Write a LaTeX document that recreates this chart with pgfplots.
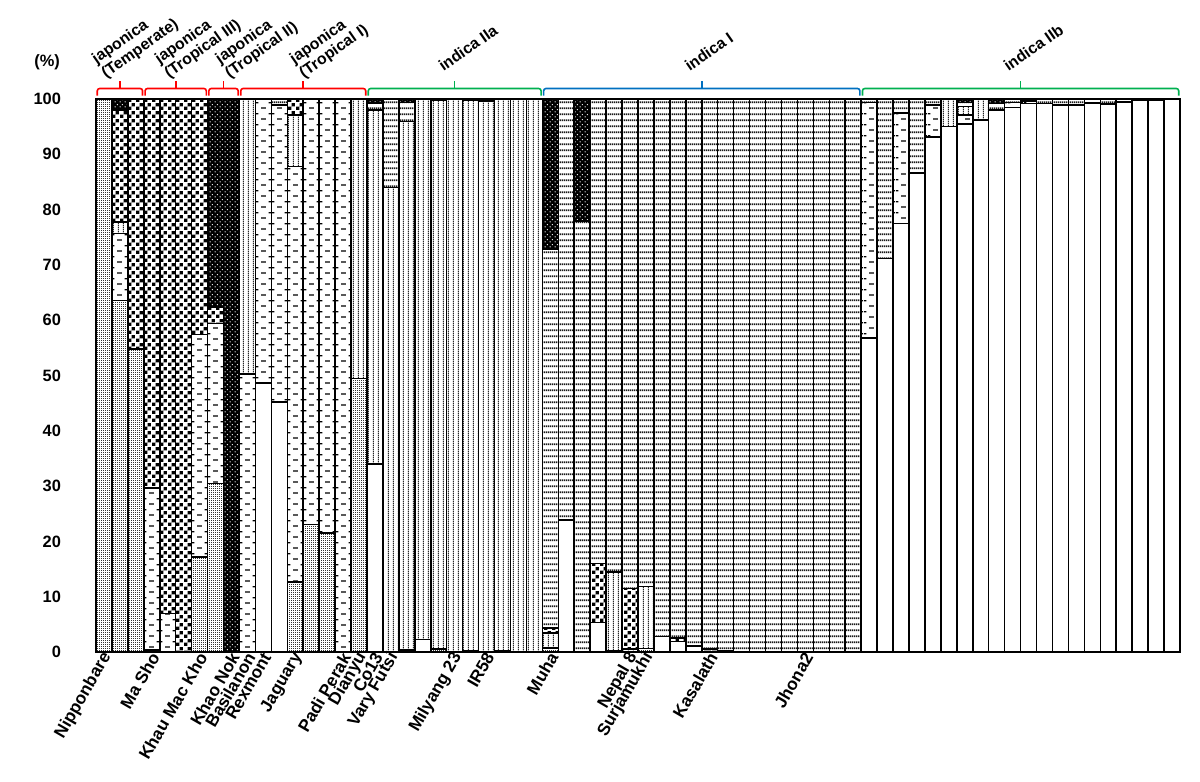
\documentclass[border=0pt]{standalone}
\usepackage{fontspec}
\setmainfont{Liberation Sans}
\usepackage{pgfplots}
\pgfplotsset{compat=1.18}
\usepackage{pgfplotstable}
\usetikzlibrary{patterns}

% fill patterns of the seven clusters
\pgfdeclarepatternformonly{finedots}{\pgfqpoint{0pt}{0pt}}{\pgfqpoint{1.2pt}{1.2pt}}{\pgfqpoint{1.2pt}{1.2pt}}{%
  \pgfpathrectangle{\pgfqpoint{0pt}{0pt}}{\pgfqpoint{0.6pt}{0.6pt}}\pgfusepath{fill}}
\pgfdeclarepatternformonly{checker}{\pgfqpoint{0pt}{0pt}}{\pgfqpoint{4pt}{4pt}}{\pgfqpoint{4pt}{4pt}}{%
  \pgfpathrectangle{\pgfqpoint{0.1pt}{0.1pt}}{\pgfqpoint{1.8pt}{1.8pt}}%
  \pgfpathrectangle{\pgfqpoint{2.1pt}{2.1pt}}{\pgfqpoint{1.8pt}{1.8pt}}\pgfusepath{fill}}
\pgfdeclarepatternformonly{wdots}{\pgfqpoint{0pt}{0pt}}{\pgfqpoint{2.6pt}{2.6pt}}{\pgfqpoint{2.6pt}{2.6pt}}{%
  \pgfpathcircle{\pgfqpoint{0.65pt}{0.65pt}}{0.4pt}%
  \pgfpathcircle{\pgfqpoint{1.95pt}{1.95pt}}{0.4pt}\pgfusepath{fill}}
\pgfdeclarepatternformonly{dashes}{\pgfqpoint{0pt}{0pt}}{\pgfqpoint{8pt}{5.6pt}}{\pgfqpoint{8pt}{5.6pt}}{%
  \pgfpathrectangle{\pgfqpoint{2.7pt}{0.2pt}}{\pgfqpoint{2.6pt}{0.7pt}}%
  \pgfpathrectangle{\pgfqpoint{0pt}{3pt}}{\pgfqpoint{1.3pt}{0.7pt}}%
  \pgfpathrectangle{\pgfqpoint{6.7pt}{3pt}}{\pgfqpoint{1.3pt}{0.7pt}}\pgfusepath{fill}}
\pgfdeclarepatternformonly{vlines}{\pgfqpoint{0pt}{0pt}}{\pgfqpoint{2.667pt}{1pt}}{\pgfqpoint{2.667pt}{1pt}}{%
  \pgfpathrectangle{\pgfqpoint{1.05pt}{0pt}}{\pgfqpoint{0.55pt}{1pt}}\pgfusepath{fill}}
\pgfdeclarepatternformonly{hlines}{\pgfqpoint{0pt}{0pt}}{\pgfqpoint{1pt}{2.85pt}}{\pgfqpoint{1pt}{2.85pt}}{%
  \pgfpathrectangle{\pgfqpoint{0pt}{1.0pt}}{\pgfqpoint{1pt}{0.85pt}}\pgfusepath{fill}}

\definecolor{jred}{RGB}{255,0,0}
\definecolor{igreen}{RGB}{0,176,80}
\definecolor{iblue}{RGB}{0,112,192}

\tikzset{grplab/.style={font=\bfseries\fontsize{7.9}{8.3}\selectfont, rotate=35, anchor=south west, align=left, inner sep=0pt}}

% bracket over a group: left, right, middle, colour
\newcommand{\grp}[4]{%
  \draw[#4, line width=0.8pt, rounded corners=1.2pt]
    (axis cs:#1,100.6) -- (axis cs:#1,101.9) -- (axis cs:#2,101.9) -- (axis cs:#2,100.6);
  \draw[#4, line width=0.8pt] (axis cs:#3,101.9) -- (axis cs:#3,103.3);}

% ancestry (%) of each accession, stacked from bottom to top
\pgfplotstableread{
x  W    D    S    V    C    H    B
1  0    100  0    0    0    0    0
2  0    63.6 12.1 2.1  20.2 0    2.0
3  0    54.8 0    0    45.2 0    0
4  0    0.4  29.3 0    70.3 0    0
5  0    0    7.0  0    93.0 0    0
6  0    0    0    0    100  0    0
7  0    17.2 40.2 0    42.6 0    0
8  0    30.5 28.9 0    3.0  0    37.6
9  0    0    0    0    0    0    100
10 0    0    50.3 49.7 0    0    0
11 48.6 0    51.4 0    0    0    0
12 45.2 0    53.7 0    0    1.1  0
13 0    12.7 75.1 9.3  2.9  0    0
14 0    23.1 76.9 0    0    0    0
15 0    21.5 78.5 0    0    0    0
16 0    0    100  0    0    0    0
17 0    49.5 0    50.5 0    0    0
18 34.0 0    0    64.0 0    1.3  0.7
19 0    0    0    84.0 0    16.0 0
20 0.4  0    0    95.5 0    3.5  0.6
21 2.3  0    0    97.7 0    0    0
22 0    0.5  0    99.2 0    0.3  0
23 0    0    0    100  0    0    0
24 0.3  0    0    99.4 0    0.3  0
25 0    0    0    99.6 0    0    0.4
26 0.3  0    0    99.7 0    0    0
27 0    0    0    100  0    0    0
28 0    0    0    100  0    0    0
29 0    0.7  0    2.7  0.9  68.5 27.2
30 23.9 0    0    0    0    76.1 0
31 0    0    0    0    0    77.9 22.1
32 5.3  0    0    0    10.7 84.0 0
33 0.3  0    0    14.2 0    85.5 0
34 0    0    0    0.5  11.0 88.5 0
35 0    0.6  0    11.2 0    88.2 0
36 2.8  0    0    0    0    97.2 0
37 1.9  0    0    0    0.6  97.5 0
38 1.1  0    0    0    0    98.9 0
39 0    0    0    0    0.5  99.5 0
40 0    0    0    0    0.3  99.7 0
41 0    0    0    0    0    100  0
42 0    0    0    0    0    100  0
43 0    0    0    0    0    100  0
44 0    0    0    0    0    100  0
45 0    0    0    0    0    100  0
46 0    0    0    0    0    100  0
47 0    0    0    0    0    100  0
48 0    0    0    0    0    100  0
49 56.8 0    42.6 0    0    0.6  0
50 71.2 0    0    0    0    28.8 0
51 77.5 0    20.0 0    0    2.5  0
52 86.6 0    0    0    0    13.4 0
53 93.1 0    5.8  0    0    1.1  0
54 95.0 0    0    5.0  0    0    0
55 95.5 0    1.6  1.5  0    0.8  0.6
56 96.2 0    0    3.8  0    0    0
57 98.0 0    0    0    0    1.2  0.8
58 98.5 0    0.9  0    0    0.6  0
59 99.2 0    0.4  0    0    0.4  0
60 99.2 0    0    0    0    0.8  0
61 98.9 0    0    0    0    1.1  0
62 98.9 0    0    0    0    1.1  0
63 99.3 0    0.7  0    0    0    0
64 99.1 0    0    0    0    0.9  0
65 99.5 0    0    0    0    0.5  0
66 99.7 0    0    0    0    0.3  0
67 99.8 0    0    0    0    0.2  0
68 100  0    0    0    0    0    0
}\anc

\begin{document}
\begin{tikzpicture}
\useasboundingbox (-48pt,-65pt) rectangle (552pt,326pt);
\begin{axis}[
    at={(0,0)}, anchor=south west,
    width=542pt, height=276.5pt, scale only axis,
    ybar stacked, bar width=1,
    xmin=0.5, xmax=68.5, ymin=0, ymax=100,
    clip=false,
    axis line style={line width=1pt},
    major tick length=0,
    ytick={0,10,...,100},
    yticklabel style={font=\bfseries\fontsize{8.2}{9}\selectfont, xshift=-14pt},
    /pgf/number format/assume math mode=true,
    xtick={1,4,7,9,10,11,13,16,17,18,19,23,25,29,34,35,39,45},
    xticklabels={Nipponbare,Ma Sho,Khau Mac Kho,Khao Nok,Basilanon,Rexmont,Jaguary,Padi Perak,Dianyu,Co13,Vary Futsi,Milyang 23,IR58,Muha,Nepal 8,Surjamukhi,Kasalath,Jhona2},
    xticklabel style={font=\bfseries\fontsize{8.6}{9}\selectfont, rotate=60, anchor=east, inner sep=1pt, xshift=1pt, yshift=-2pt},
    every axis plot/.append style={draw=black, line width=0.75pt},
]
\addplot[fill=white] table[x=x, y=W] {\anc};
\addplot[pattern=finedots, pattern color=black!80] table[x=x, y=D] {\anc};
\addplot[pattern=dashes, pattern color=black] table[x=x, y=S] {\anc};
\addplot[pattern=vlines, pattern color=black!85] table[x=x, y=V] {\anc};
\addplot[pattern=checker, pattern color=black] table[x=x, y=C] {\anc};
\addplot[pattern=hlines, pattern color=black!90] table[x=x, y=H] {\anc};
\addplot[fill=black, postaction={pattern=wdots, pattern color=white}] table[x=x, y=B] {\anc};

\grp{0.58}{3.42}{2.0}{jred}
\grp{3.58}{7.42}{5.5}{jred}
\grp{7.58}{9.42}{8.5}{jred}
\grp{9.58}{17.42}{13.5}{jred}
\grp{17.58}{28.42}{23.0}{igreen}
\grp{28.58}{48.42}{38.5}{iblue}
\grp{48.58}{68.42}{58.5}{igreen}

\node[grplab] at (axis cs:1.25,103.2) {japonica\\(Temperate)};
\node[grplab] at (axis cs:5.2,103.2) {japonica\\(Tropical III)};
\node[grplab] at (axis cs:9.0,103.2) {japonica\\(Tropical II)};
\node[grplab] at (axis cs:13.65,103.2) {japonica\\(Tropical I)};
\node[grplab] at (axis cs:22.3,104.8) {indica IIa};
\node[grplab] at (axis cs:37.75,104.8) {indica I};
\node[grplab] at (axis cs:57.75,104.8) {indica IIb};
\node[font=\bfseries\fontsize{8.2}{9}\selectfont] at (axis cs:-2.57,106.6) {(\%)};
\end{axis}
\end{tikzpicture}
\end{document}
